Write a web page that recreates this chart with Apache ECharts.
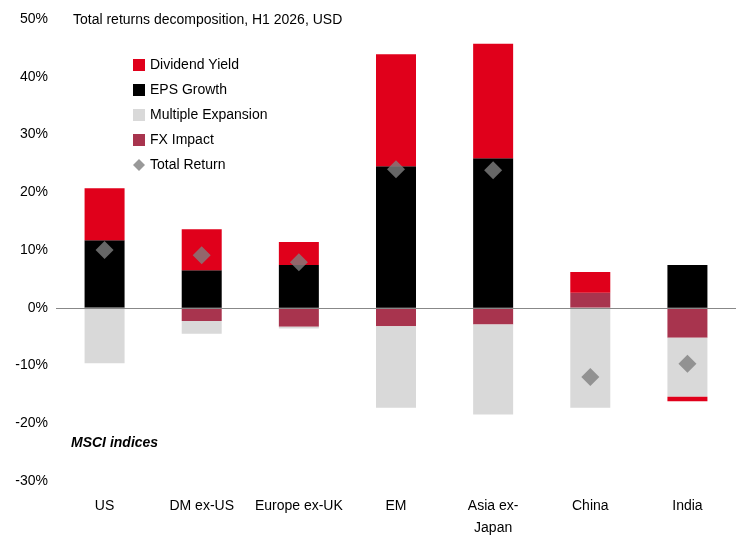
<!DOCTYPE html>
<html>
<head>
<meta charset="utf-8">
<script src="https://cdn.jsdelivr.net/npm/echarts@6/dist/echarts.min.js"></script>
<style>html,body{margin:0;padding:0;background:#fff}</style>
</head>
<body>
<div id="main" style="width:750px;height:546px"></div>
<script>
const categories = ['US', 'DM ex-US', 'Europe ex-UK', 'EM', 'Asia ex-\nJapan', 'China', 'India'];
const dividendYield = [9.0, 7.1, 4.0, 19.4, 19.8, 3.6, -0.8];
const epsGrowth = [11.7, 6.5, 7.4, 24.5, 25.9, 0, 7.4];
const multipleExpansion = [-9.6, -2.2, -0.3, -14.1, -15.6, -17.3, -10.2];
const fxImpact = [0, -2.3, -3.3, -3.2, -2.9, 2.6, -5.2];
const totalReturn = [10.0, 9.1, 7.9, 24.0, 23.8, -12.0, -9.7];

const chart = echarts.init(document.getElementById('main'));
const font = 'Liberation Sans, Arial, sans-serif';
const barW = 40;
chart.setOption({
    animation: false,
    textStyle: {fontFamily: font},
    title: [{
        text: 'Total returns decomposition, H1 2026, USD',
        left: 68, top: 8,
        textStyle: {fontSize: 14, fontWeight: 'normal', color: '#000'}
    }, {
        text: 'MSCI indices',
        left: 66, top: 431,
        textStyle: {fontSize: 14, fontWeight: 'bold', fontStyle: 'italic', color: '#000'}
    }],
    legend: {
        orient: 'vertical',
        left: 128, top: 53,
        itemGap: 11,
        itemWidth: 12, itemHeight: 12,
        textStyle: {fontSize: 14, color: '#000'},
        data: [
            {name: 'Dividend Yield', icon: 'rect'},
            {name: 'EPS Growth', icon: 'rect'},
            {name: 'Multiple Expansion', icon: 'rect'},
            {name: 'FX Impact', icon: 'rect'},
            {name: 'Total Return', icon: 'diamond'}
        ]
    },
    grid: {left: 56, right: 14, top: 19, bottom: 65, containLabel: false, outerBoundsMode: 'none'},
    xAxis: {
        type: 'category',
        data: categories,
        axisLine: {show: false, onZero: false},
        axisTick: {show: false},
        axisLabel: {fontSize: 14, color: '#000', margin: 14, lineHeight: 22, interval: 0}
    },
    yAxis: {
        type: 'value',
        min: -30, max: 50, interval: 10,
        splitLine: {show: false},
        axisLine: {show: false},
        axisTick: {show: false},
        axisLabel: {fontSize: 14, color: '#000', formatter: '{value}%'}
    },
    series: [
        {name: 'FX Impact', type: 'bar', stack: 's', barWidth: barW, data: fxImpact, itemStyle: {color: '#A8344E'},
         markLine: {silent: true, symbol: 'none', label: {show: false}, lineStyle: {color: '#888', type: 'solid', width: 1}, data: [{yAxis: 0}]}},
        {name: 'EPS Growth', type: 'bar', stack: 's', barWidth: barW, data: epsGrowth, itemStyle: {color: '#000'}},
        {name: 'Multiple Expansion', type: 'bar', stack: 's', barWidth: barW, data: multipleExpansion, itemStyle: {color: '#D9D9D9'}},
        {name: 'Dividend Yield', type: 'bar', stack: 's', barWidth: barW, data: dividendYield, itemStyle: {color: '#E0001B'}},
        {name: 'Total Return', type: 'scatter', symbol: 'diamond', symbolSize: 18, data: totalReturn, itemStyle: {color: '#7F7F7F'}, z: 5}
    ]
});
</script>
</body>
</html>
